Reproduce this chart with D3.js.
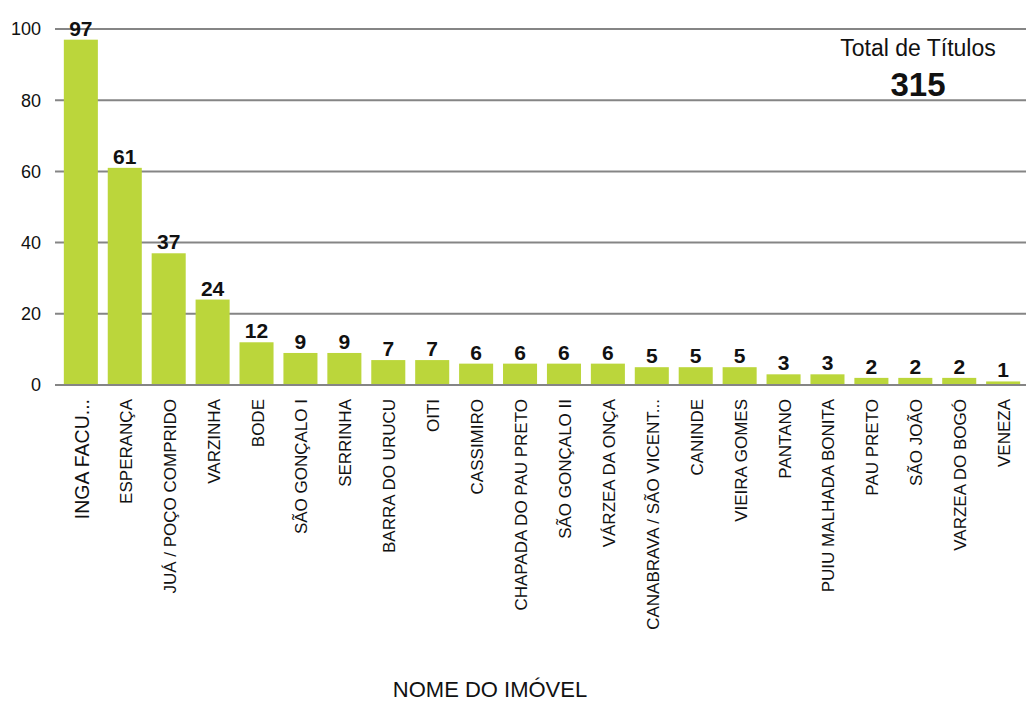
<!DOCTYPE html>
<html>
<head>
<meta charset="utf-8">
<script src="https://cdn.jsdelivr.net/npm/d3@7"></script>
<style>
  body { margin: 0; background: #fff; }
  svg { display: block; font-family: "Liberation Sans", Arial, Helvetica, sans-serif; }
</style>
</head>
<body>
<svg id="chart" width="1026" height="704"></svg>
<script>
// Titles per property
const categories = [
  "INGA FACU...", "ESPERANÇA", "JUÁ / POÇO COMPRIDO", "VARZINHA", "BODE",
  "SÃO GONÇALO I", "SERRINHA", "BARRA DO URUCU", "OITI", "CASSIMIRO",
  "CHAPADA DO PAU PRETO", "SÃO GONÇALO II", "VÁRZEA DA ONÇA",
  "CANABRAVA / SÃO VICENT...", "CANINDE", "VIEIRA GOMES", "PANTANO",
  "PUIU MALHADA BONITA", "PAU PRETO", "SÃO JOÃO", "VARZEA DO BOGÓ", "VENEZA"
];
const values = [97, 61, 37, 24, 12, 9, 9, 7, 7, 6, 6, 6, 6, 5, 5, 5, 3, 3, 2, 2, 2, 1];
const yTicks = [0, 20, 40, 60, 80, 100];
const totalLabel = "Total de Títulos";
const totalValue = 315;
const xTitle = "NOME DO IMÓVEL";

const svg = d3.select("#chart");

const x = d3.scaleBand()
  .domain(categories)
  .range([59, 1025])
  .paddingInner(0.225)
  .paddingOuter(0.11);

const y = d3.scaleLinear()
  .domain([0, 100])
  .range([385, 29]);

// Horizontal gridlines
svg.append("g")
  .selectAll("line")
  .data(yTicks)
  .join("line")
  .attr("x1", 55)
  .attr("x2", 1026)
  .attr("y1", d => y(d))
  .attr("y2", d => y(d))
  .attr("stroke", "#858585")
  .attr("stroke-width", 2);

// Y tick labels
svg.append("g")
  .selectAll("text")
  .data(yTicks)
  .join("text")
  .attr("x", 41)
  .attr("y", d => y(d))
  .attr("dy", "0.35em")
  .attr("text-anchor", "end")
  .attr("font-size", 18)
  .attr("fill", "#111")
  .text(d => d);

// Bars
svg.append("g")
  .selectAll("rect")
  .data(values)
  .join("rect")
  .attr("x", (d, i) => x(categories[i]))
  .attr("width", x.bandwidth())
  .attr("y", d => y(d))
  .attr("height", d => y(0) - y(d) - 1)
  .attr("fill", "#bbd63b");

// Value labels
svg.append("g")
  .selectAll("text")
  .data(values)
  .join("text")
  .attr("x", (d, i) => x(categories[i]) + x.bandwidth() / 2)
  .attr("y", d => y(d) - 4)
  .attr("text-anchor", "middle")
  .attr("font-size", 21)
  .attr("font-weight", "bold")
  .attr("fill", "#111")
  .text(d => d);

// Rotated category labels (the first, truncated name is set a little larger)
svg.append("g")
  .selectAll("text")
  .data(categories)
  .join("text")
  .attr("transform", (d, i) => `translate(${x(d) + x.bandwidth() / 2 + (i === 0 ? 8 : 7)},399) rotate(-90)`)
  .attr("text-anchor", "end")
  .attr("font-size", (d, i) => i === 0 ? 19.5 : 17)
  .attr("fill", "#111")
  .text(d => d);

// Total annotation
svg.append("text")
  .attr("x", 918)
  .attr("y", 56)
  .attr("text-anchor", "middle")
  .attr("font-size", 23)
  .attr("fill", "#111")
  .text(totalLabel);

svg.append("text")
  .attr("x", 918)
  .attr("y", 96)
  .attr("text-anchor", "middle")
  .attr("font-size", 33)
  .attr("font-weight", "bold")
  .attr("fill", "#111")
  .text(totalValue);

// Axis title
svg.append("text")
  .attr("x", 490)
  .attr("y", 697)
  .attr("text-anchor", "middle")
  .attr("font-size", 22)
  .attr("fill", "#111")
  .text(xTitle);
</script>
</body>
</html>
